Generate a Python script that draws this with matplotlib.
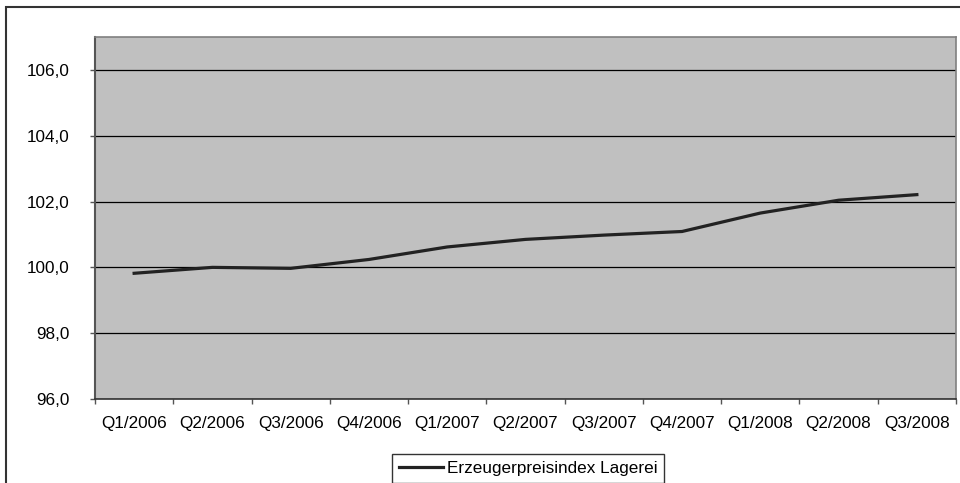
import matplotlib
matplotlib.use("Agg")
import matplotlib.pyplot as plt
from matplotlib.patches import Rectangle
from matplotlib.ticker import FuncFormatter

categories = ["Q1/2006", "Q2/2006", "Q3/2006", "Q4/2006", "Q1/2007", "Q2/2007",
              "Q3/2007", "Q4/2007", "Q1/2008", "Q2/2008", "Q3/2008"]
values = [99.82, 100.0, 99.97, 100.24, 100.62, 100.85, 100.98, 101.09, 101.65, 102.04, 102.21]
series_name = "Erzeugerpreisindex Lagerei"
y_ticks = [96, 98, 100, 102, 104, 106]

plt.rcParams['font.family'] = ['Liberation Sans', 'DejaVu Sans']

W, H = 960, 483
fig = plt.figure(figsize=(W / 100, H / 100), dpi=100)
fig.patch.set_facecolor('white')

ax = fig.add_axes([95 / W, 1 - 399 / H, (956 - 95) / W, (399 - 37) / H])
ax.set_facecolor('#C0C0C0')

x = list(range(len(categories)))
ax.plot(x, values, color='#222222', lw=2.3, solid_joinstyle='round', label=series_name, zorder=3)

ax.set_xlim(-0.5, len(categories) - 0.5)
ax.set_ylim(96, 107)
ax.set_yticks(y_ticks)
ax.yaxis.set_major_formatter(FuncFormatter(lambda v, p: f"{v:.1f}".replace('.', ',')))
ax.set_xticks(x)
ax.set_xticklabels(categories)
ax.set_xticks([i - 0.5 for i in range(len(categories) + 1)], minor=True)

ax.grid(axis='y', color='black', lw=0.9, zorder=1)
ax.set_axisbelow(True)

fs = 12.3
ax.tick_params(axis='y', direction='out', length=3.6, width=1, color='#555555',
               labelsize=fs, pad=14.5)
ax.tick_params(axis='x', which='major', length=0, labelsize=fs, pad=12)
ax.tick_params(axis='x', which='minor', direction='out', length=3.6, width=1, color='#555555')

for s in ['top', 'right']:
    ax.spines[s].set_color('#808080')
    ax.spines[s].set_linewidth(1.2)
ax.spines['left'].set_color('#555555')
ax.spines['left'].set_linewidth(1.5)
ax.spines['bottom'].set_color('#333333')
ax.spines['bottom'].set_linewidth(1.2)

leg = fig.legend(loc='upper left', bbox_to_anchor=(392 / W, 1 - 454 / H),
                 fontsize=fs, frameon=True, fancybox=False, shadow=False,
                 handlelength=2.6, handletextpad=0.2, borderpad=0.4, borderaxespad=0)
leg.get_frame().set_edgecolor('black')
leg.get_frame().set_linewidth(1.0)

fig.patches.append(Rectangle((6 / W, -0.2), 2, 1 - 7 / H + 0.2, transform=fig.transFigure,
                             fill=False, edgecolor='#333333', lw=1.5))

fig.savefig('out.png', dpi=100)
